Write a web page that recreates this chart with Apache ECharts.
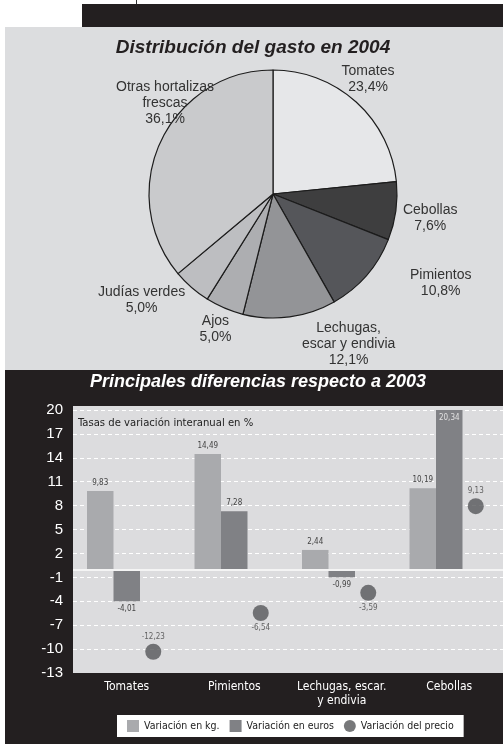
<!DOCTYPE html>
<html><head><meta charset="utf-8">
<script src="https://cdn.jsdelivr.net/npm/echarts@6/dist/echarts.min.js"></script>
<style>html,body{margin:0;padding:0;background:#fff}#c{width:503px;height:744px}</style>
</head><body><div id="c"></div>
<script>
// ---- data ----
const pieNames = ['Tomates', 'Cebollas', 'Pimientos', 'Lechugas,\nescar y endivia', 'Ajos', 'Judías verdes', 'Otras hortalizas\nfrescas'];
const pieValues = [23.4, 7.6, 10.8, 12.1, 5.0, 5.0, 36.1];
const barCategories = ['Tomates', 'Pimientos', 'Lechugas, escar.\ny endivia', 'Cebollas'];
const kgValues = [9.83, 14.49, 2.44, 10.19];
const euroValues = [-4.01, 7.28, -0.99, 20.34];
const priceValues = [-12.23, -6.54, -3.59, 9.13];
const yTickMin = -13, yTickMax = 20, yTickStep = 3;

// ---- styles ----
const pieColors = ['#e6e7e9', '#3e3e3f', '#55565a', '#939497', '#adaeb1', '#bdbec1', '#c9cacc'];
const pieLabelAdj = [-2.5, 0.7, -13, -19, 0, 10, 15];
const pieLabelDist = [149, 159, 190, 168, 147, 169, 141];
const PIE_C = [273, 194], PIE_R = 124;
const NARROW = '"DejaVu Sans Condensed", "Liberation Sans", sans-serif';
const SANS = '"Liberation Sans", Arial, sans-serif';
const fmt = (v, d) => v.toFixed(d).replace('.', ',');

const total = pieValues.reduce((a, b) => a + b, 0);
const cum = [];
pieValues.reduce((a, v, i) => { cum[i] = a; return a + v; }, 0);

const chart = echarts.init(document.getElementById('c'), null, {renderer: 'canvas'});
chart.setOption({
  animation: false,
  backgroundColor: '#ffffff',
  graphic: [
    {type: 'rect', z: -5, shape: {x: 82, y: 4, width: 421, height: 23}, style: {fill: '#231f20'}},
    {type: 'line', z: -5, shape: {x1: 136.5, y1: 0, x2: 136.5, y2: 4}, style: {stroke: '#333', lineWidth: 1}},
    {type: 'rect', z: -5, shape: {x: 5, y: 27, width: 498, height: 343}, style: {fill: '#dcdddf'}},
    {type: 'rect', z: -5, shape: {x: 5, y: 370, width: 498, height: 374}, style: {fill: '#231f20'}},
    {type: 'rect', z: -4, shape: {x: 73, y: 406, width: 430, height: 267}, style: {fill: '#dcdcde'}},
    {type: 'text', z: 50, x: 253, y: 48, style: {text: 'Distribución del gasto en 2004', fill: '#231f20', fontSize: 19, fontWeight: 'bold', fontStyle: 'italic', fontFamily: SANS, align: 'center', verticalAlign: 'middle'}},
    {type: 'text', z: 50, x: 258, y: 382, style: {text: 'Principales diferencias respecto a 2003', fill: '#ffffff', fontSize: 18, fontWeight: 'bold', fontStyle: 'italic', fontFamily: SANS, align: 'center', verticalAlign: 'middle'}},
    {type: 'text', z: 50, x: 78, y: 423, style: {text: 'Tasas de variación interanual en %', fill: '#222', fontSize: 11.2, fontFamily: NARROW, align: 'left', verticalAlign: 'middle'}}
  ],
  legend: {
    left: 117, top: 715,
    backgroundColor: '#ffffff',
    padding: [5, 10, 5, 10],
    itemWidth: 12, itemHeight: 12, itemGap: 10,
    textStyle: {color: '#222', fontSize: 10.5, fontFamily: NARROW},
    data: [
      {name: 'Variación en kg.', icon: 'rect'},
      {name: 'Variación en euros', icon: 'rect'},
      {name: 'Variación del precio', icon: 'circle'}
    ]
  },
  grid: {left: 73, right: 0, top: 410, bottom: 71},
  xAxis: {
    type: 'category', data: barCategories,
    axisLine: {show: false, onZero: false}, axisTick: {show: false},
    axisLabel: {interval: 0, color: '#ffffff', fontSize: 12, lineHeight: 14, margin: 7, fontFamily: NARROW}
  },
  yAxis: [
    {
      type: 'value', min: yTickMin, max: yTickMax, interval: yTickStep,
      axisLine: {show: false}, axisTick: {show: false},
      axisLabel: {color: '#ffffff', fontSize: 15, margin: 10, fontFamily: SANS},
      splitLine: {show: true, lineStyle: {color: ['rgba(0,0,0,0)', '#fff', '#fff', '#fff', '#fff', '#fff', '#fff', '#fff', '#fff', '#fff', '#fff', '#fff'], type: [4, 3], width: 1}}
    },
    {type: 'value', min: -15.35, max: 23.25, show: false, splitLine: {show: false}}
  ],
  series: [
    {
      type: 'pie', center: PIE_C, radius: PIE_R, startAngle: 90, clockwise: true,
      avoidLabelOverlap: false, silent: true,
      data: pieNames.map((n, i) => ({name: n, value: pieValues[i], itemStyle: {color: pieColors[i]}})),
      itemStyle: {borderColor: '#1c1c1c', borderWidth: 1.2},
      label: {show: true, position: 'outside', color: '#333', fontSize: 14, lineHeight: 16, fontFamily: SANS,
        formatter: p => p.name + '\n' + fmt(p.value, 1) + '%'},
      labelLine: {show: false},
      labelLayout: function (params) {
        const i = params.dataIndex;
        const mid = (cum[i] + pieValues[i] / 2) / total * 360 + pieLabelAdj[i];
        const a = mid * Math.PI / 180;
        return {x: PIE_C[0] + pieLabelDist[i] * Math.sin(a), y: PIE_C[1] - pieLabelDist[i] * Math.cos(a), align: 'center', verticalAlign: 'middle'};
      },
      legendHoverLink: false
    },
    {
      name: 'Variación en kg.', type: 'bar', data: kgValues, barWidth: 26.5, barGap: '0%',
      itemStyle: {color: '#a9aaad'},
      label: {show: true, position: 'top', distance: 4, color: '#444', fontSize: 8, fontFamily: NARROW, formatter: p => fmt(p.value, 2)},
      markLine: {silent: true, symbol: 'none', label: {show: false}, lineStyle: {color: '#f4f4f4', width: 2, type: 'solid'}, data: [{yAxis: 0}]}
    },
    {
      name: 'Variación en euros', type: 'bar', barWidth: 26.5, barGap: '0%',
      data: euroValues.map(v => ({value: v, label: {position: v < 0 ? 'bottom' : (v > 19 ? 'insideTop' : 'top'), color: v > 19 ? '#e0e0e0' : '#444'}})),
      itemStyle: {color: '#808185'},
      label: {show: true, distance: 4, fontSize: 8, fontFamily: NARROW, formatter: p => fmt(p.value, 2)}
    },
    {
      name: '_slot', type: 'bar', barWidth: 26.5, barGap: '0%', data: priceValues.map(() => '-'), silent: true
    },
    {
      name: 'Variación del precio', type: 'scatter', yAxisIndex: 1,
      symbol: 'circle', symbolSize: 16, symbolOffset: [26.5, 0],
      itemStyle: {color: '#555659'},
      data: priceValues.map(v => ({value: v, label: {position: (v > 0 || v < -10) ? 'top' : 'bottom'}})),
      label: {show: true, distance: 3, color: '#444', fontSize: 8, fontFamily: NARROW, formatter: p => fmt(p.value, 2)}
    }
  ]
});
</script>
</body></html>
